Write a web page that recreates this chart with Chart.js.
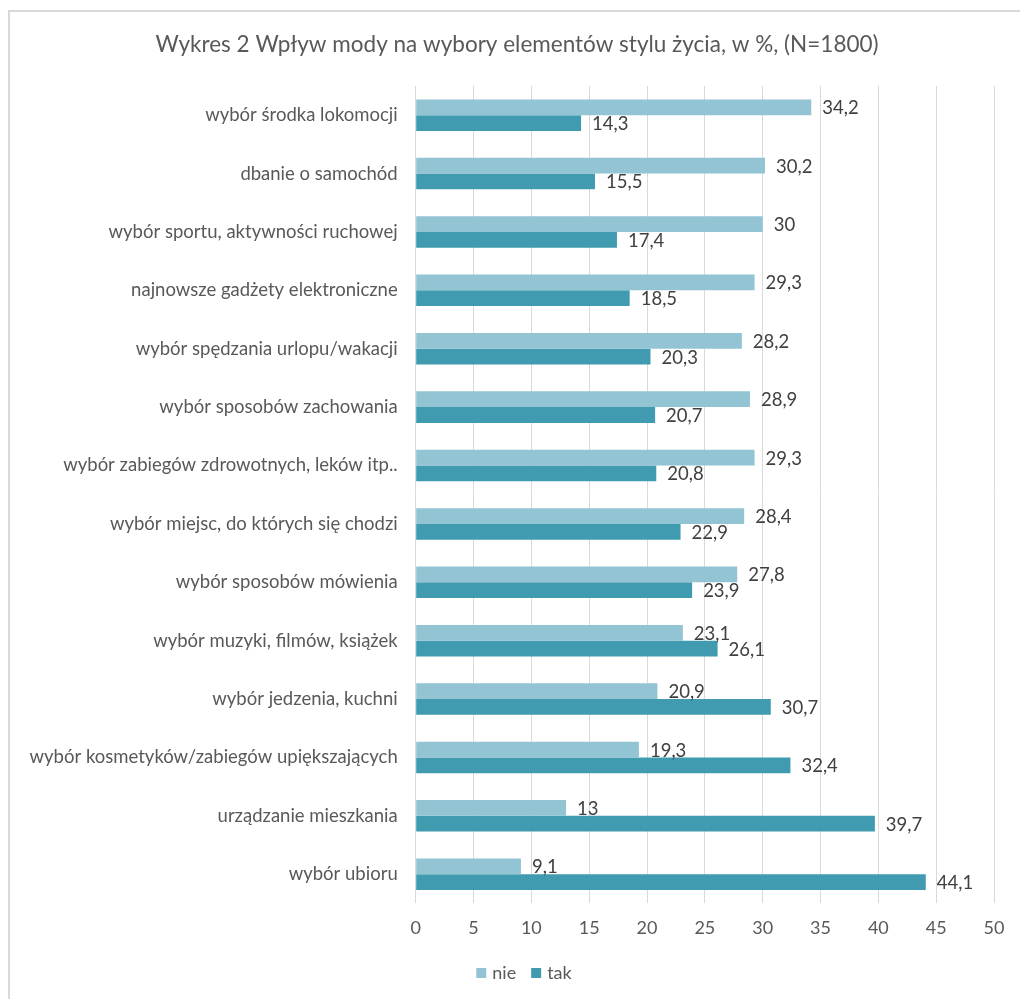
<!DOCTYPE html>
<html lang="pl">
<head>
<meta charset="utf-8">
<title>Wykres 2</title>
<script src="https://cdn.jsdelivr.net/npm/chart.js@4.4.1/dist/chart.umd.min.js"></script>
<style>
  html, body { margin: 0; padding: 0; background: #fff; }
  #wrap { width: 1020px; height: 999px; position: relative; }
</style>
</head>
<body>
<div id="wrap"><canvas id="graph"></canvas></div>
<script>
// categories, top to bottom
const categories = [
  "wybór środka lokomocji",
  "dbanie o samochód",
  "wybór sportu, aktywności ruchowej",
  "najnowsze gadżety elektroniczne",
  "wybór spędzania urlopu/wakacji",
  "wybór sposobów zachowania",
  "wybór zabiegów zdrowotnych, leków itp..",
  "wybór miejsc, do których się chodzi",
  "wybór sposobów mówienia",
  "wybór muzyki, filmów, książek",
  "wybór jedzenia, kuchni",
  "wybór kosmetyków/zabiegów upiększających",
  "urządzanie mieszkania",
  "wybór ubioru"
];

const nieValues = [34.2, 30.2, 30, 29.3, 28.2, 28.9, 29.3, 28.4, 27.8, 23.1, 20.9, 19.3, 13, 9.1];
const takValues = [14.3, 15.5, 17.4, 18.5, 20.3, 20.7, 20.8, 22.9, 23.9, 26.1, 30.7, 32.4, 39.7, 44.1];

const xTicks = [0, 5, 10, 15, 20, 25, 30, 35, 40, 45, 50];

const titleText = "Wykres 2 Wpływ mody na wybory elementów stylu życia, w %, (N=1800)";

const FONT = "Lato, 'Open Sans', sans-serif";
const NIE_COLOR = "#92C4D4";
const TAK_COLOR = "#409BB0";

const fmt = (v) => String(v).replace(".", ",");

// frame, title, legend and value labels
const decorations = {
  id: "decorations",
  beforeDraw(chart) {
    const ctx = chart.ctx;
    ctx.save();
    ctx.fillStyle = "#fff";
    ctx.fillRect(0, 0, chart.width, chart.height);
    ctx.strokeStyle = "#D9D9D9";
    ctx.lineWidth = 2;
    ctx.beginPath();
    ctx.moveTo(9, chart.height);
    ctx.lineTo(9, 11);
    ctx.lineTo(chart.width, 11);
    ctx.stroke();

    ctx.fillStyle = "#595959";
    ctx.font = "22.5px " + FONT;
    ctx.textAlign = "center";
    ctx.textBaseline = "middle";
    ctx.fillText(titleText, 517, 45);
    ctx.restore();
  },
  afterDatasetsDraw(chart) {
    const ctx = chart.ctx;
    ctx.save();
    ctx.font = "18.5px " + FONT;
    ctx.fillStyle = "#404040";
    ctx.textAlign = "left";
    ctx.textBaseline = "middle";
    chart.data.datasets.forEach((ds, i) => {
      chart.getDatasetMeta(i).data.forEach((bar, j) => {
        ctx.fillText(fmt(ds.data[j]), bar.x + 11, bar.y + 1);
      });
    });

    // legend
    ctx.font = "18px " + FONT;
    const items = chart.data.datasets.map((ds) => ({ label: ds.label, color: ds.backgroundColor }));
    const box = 10, gap = 6, spacing = 15, y = 973;
    const widths = items.map((it) => box + gap + ctx.measureText(it.label).width);
    const total = widths.reduce((a, b) => a + b, 0) + spacing * (items.length - 1);
    let x = 524 - total / 2;
    items.forEach((it, k) => {
      ctx.fillStyle = it.color;
      ctx.fillRect(x, y - box / 2, box, box);
      ctx.fillStyle = "#595959";
      ctx.fillText(it.label, x + box + gap, y);
      x += widths[k] + spacing;
    });
    ctx.restore();
  }
};

new Chart(document.getElementById("graph"), {
  type: "bar",
  data: {
    labels: categories,
    datasets: [
      { label: "nie", data: nieValues, backgroundColor: NIE_COLOR },
      { label: "tak", data: takValues, backgroundColor: TAK_COLOR }
    ]
  },
  options: {
    indexAxis: "y",
    responsive: true,
    maintainAspectRatio: false,
    animation: false,
    events: [],
    categoryPercentage: 0.54,
    barPercentage: 1.0,
    layout: { padding: { top: 86, right: 26, bottom: 0, left: 0 } },
    plugins: {
      legend: { display: false },
      title: { display: false },
      tooltip: { enabled: false }
    },
    scales: {
      x: {
        min: 0,
        max: 50,
        afterBuildTicks(axis) {
          axis.ticks = xTicks.map((v) => ({ value: v }));
        },
        afterFit(axis) { axis.height = 95.6; },
        grid: { color: "#D9D9D9", lineWidth: 1, drawTicks: false },
        border: { display: false },
        ticks: {
          padding: 14,
          color: "#595959",
          font: { family: FONT, size: 18 }
        }
      },
      y: {
        afterFit(axis) { axis.width = 415.7; },
        grid: { display: false, drawTicks: false },
        border: { display: false },
        ticks: {
          padding: 18,
          color: "#595959",
          font: { family: FONT, size: 18.5 }
        }
      }
    }
  },
  plugins: [decorations]
});
</script>
</body>
</html>
